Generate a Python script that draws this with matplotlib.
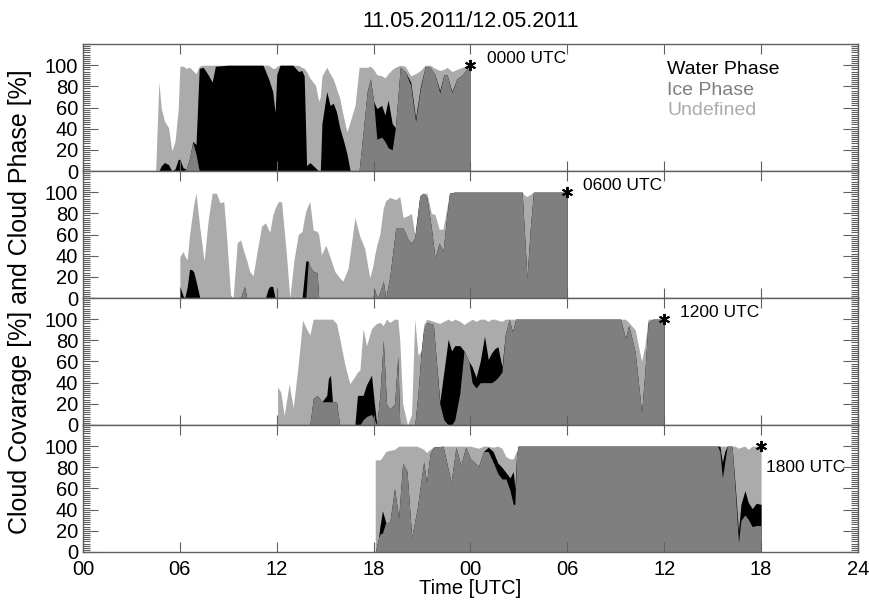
import numpy as np
import matplotlib.pyplot as plt
from matplotlib.ticker import MultipleLocator

plt.rcParams['font.family'] = ['Liberation Sans', 'DejaVu Sans']

# hours counted from 11.05.2011 00 UTC; cover, ice and water in percent
hours_00 = [4.5, 4.7, 4.85, 5.05, 5.3, 5.5, 5.7, 5.9, 6.0, 6.2, 6.4, 6.6, 6.8, 7.0, 7.2, 7.45,
            7.75, 8.0, 8.2, 9.0, 10.0, 11.15, 11.5, 11.75, 11.9, 12.0, 12.2, 13.0, 13.35, 13.55,
            13.7, 13.85, 14.05, 14.4, 14.6, 14.7, 14.8, 15.1, 15.3, 15.5, 15.7, 15.9, 16.15,
            16.35, 16.55, 16.85, 17.1, 17.4, 17.6, 17.8, 18.0, 18.2, 18.5, 18.7, 18.9, 19.15,
            19.35, 19.65, 19.95, 20.3, 20.6, 20.9, 21.2, 21.5, 21.8, 22.1, 22.35, 22.55, 22.85,
            23.15, 23.5, 23.8, 24.0]
cover_00 = [0, 84, 59, 47, 41, 19, 28, 59, 99, 99, 97, 98, 95, 92, 99, 100,
            100, 100, 100, 100, 100, 100, 100, 97, 97, 99, 100, 100, 100, 98,
            97, 94, 88, 81, 66, 70, 90, 98, 92, 87, 78, 69, 50,
            37, 47, 62, 98, 98, 98, 99, 96, 91, 90, 88, 92, 96,
            98, 100, 99, 90, 92, 95, 100, 100, 97, 95, 96, 98, 94,
            96, 98, 100, 100]
ice_00 = [0, 0, 0, 0, 0, 0, 0, 0, 0, 0, 2, 12, 27, 16, 0, 0,
          0, 0, 0, 0, 0, 0, 0, 0, 0, 0, 0, 0, 0, 0,
          0, 0, 0, 0, 0, 0, 0, 0, 0, 0, 0, 0, 0,
          0, 0, 0, 0, 44, 75, 87, 66, 30, 32, 28, 22, 20,
          41, 98, 94, 81, 47, 78, 99, 98, 91, 74, 91, 91, 74,
          87, 91, 97, 99]
water_00 = [0, 0, 5, 8, 6, 0, 2, 11, 11, 3, 0, 0, 1, 9, 97, 98,
            91, 84, 99, 100, 100, 100, 87, 75, 55, 91, 100, 100, 94, 95,
            90, 5, 8, 3, 0, 0, 45, 75, 62, 64, 56, 41, 28,
            16, 0, 0, 0, 0, 0, 0, 0, 29, 30, 25, 45, 25,
            0, 0, 0, 3, 3, 2, 0, 0, 0, 2, 0, 0, 1,
            0, 0, 0, 0]

hours_06 = [6.0, 6.2, 6.3, 6.45, 6.6, 6.72, 6.85, 7.0, 7.24, 7.5, 7.75, 8.0, 8.27, 8.48, 8.72,
            8.9, 9.14, 9.3, 9.55, 9.76, 10.0, 10.15, 10.33, 10.54, 10.75, 11.06, 11.3, 11.45,
            11.57, 11.75, 11.9, 12.09, 12.3, 12.6, 12.81, 13.06, 13.33, 13.57, 13.7, 13.8,
            13.95, 14.05, 14.26, 14.5, 14.6, 14.77, 15.04, 15.29, 15.6, 15.9, 16.1, 16.42,
            16.84, 17.15, 17.45, 17.76, 17.95, 18.07, 18.2, 18.38, 18.6, 18.75, 19.0, 19.37,
            19.62, 19.83, 20.14, 20.34, 20.55, 20.86, 21.07, 21.3, 21.58, 21.8, 22.06, 22.3,
            22.5, 22.7, 23.0, 27.2, 27.35, 27.5, 27.7, 27.9, 30.0]
cover_06 = [39, 44, 40, 36, 60, 73, 88, 99, 66, 35, 73, 99, 99, 90, 91,
            57, 3, 0, 52, 55, 42, 35, 25, 21, 41, 68, 71, 66,
            62, 78, 85, 91, 91, 41, 0, 35, 60, 63, 75, 82,
            88, 91, 64, 63, 60, 41, 50, 39, 25, 19, 16, 28,
            76, 58, 47, 19, 30, 41, 50, 60, 85, 92, 95, 93,
            96, 76, 78, 80, 60, 97, 99, 99, 80, 79, 65, 65,
            82, 99, 100, 100, 97, 96, 98, 100, 100]
ice_06 = [0, 0, 0, 0, 0, 0, 0, 0, 0, 0, 0, 0, 0, 0, 0,
          0, 0, 0, 0, 0, 11, 0, 0, 0, 0, 0, 0, 0,
          0, 0, 0, 0, 0, 0, 0, 0, 0, 0, 0, 0,
          35, 30, 25, 24, 0, 0, 0, 0, 0, 0, 0, 0,
          0, 0, 0, 0, 0, 8, 0, 5, 16, 0, 20, 66,
          66, 66, 55, 52, 57, 96, 99, 95, 66, 38, 52, 44,
          73, 99, 100, 100, 60, 19, 65, 100, 100]
water_06 = [11, 2, 0, 10, 27, 27, 25, 16, 0, 0, 0, 0, 0, 0, 0,
            0, 0, 0, 0, 0, 0, 0, 0, 0, 0, 0, 0, 8,
            11, 11, 0, 0, 0, 0, 0, 0, 0, 0, 20, 35,
            0, 0, 0, 0, 0, 0, 0, 0, 0, 0, 0, 0,
            0, 0, 0, 0, 0, 0, 0, 0, 0, 0, 0, 0,
            0, 0, 0, 0, 0, 0, 0, 0, 0, 0, 0, 0,
            0, 0, 0, 0, 0, 0, 0, 0, 0]

hours_12 = [12.05, 12.25, 12.46, 12.77, 13.02, 13.33, 13.6, 13.84, 14.05, 14.26, 14.5, 14.8,
            15.1, 15.2, 15.33, 15.45, 15.7, 15.9, 16.22, 16.53, 16.84, 17.0, 17.15, 17.35,
            17.56, 17.87, 18.05, 18.2, 18.4, 18.6, 18.8, 19.0, 19.3, 19.5, 19.62, 19.8, 20.1,
            20.35, 20.55, 20.75, 20.95, 21.1, 21.3, 21.7, 22.1, 22.35, 22.62, 22.83, 23.03,
            23.34, 23.6, 23.9, 24.1, 24.35, 24.6, 24.87, 25.1, 25.3, 25.5, 25.7, 25.95, 26.15,
            26.4, 26.6, 26.8, 33.3, 33.6, 33.8, 34.2, 34.6, 34.8, 35.0, 35.3, 36.0]
cover_12 = [36, 31, 9, 39, 16, 57, 99, 91, 85, 100, 100, 100,
            100, 100, 100, 100, 96, 82, 57, 39, 46, 50, 52, 91,
            75, 91, 94, 96, 97, 94, 100, 97, 100, 100, 80, 20, 0,
            10, 100, 66, 70, 95, 100, 98, 96, 98, 100, 98, 100,
            98, 95, 98, 100, 98, 100, 100, 98, 100, 100, 99, 98, 100,
            100, 100, 100, 100, 100, 97, 90, 60, 75, 100, 100, 100]
ice_12 = [0, 0, 0, 0, 0, 0, 0, 0, 0, 25, 28, 22,
          22, 22, 22, 22, 22, 0, 0, 0, 0, 0, 0, 5,
          8, 10, 5, 0, 30, 80, 20, 15, 20, 65, 0, 0, 0,
          0, 0, 30, 70, 90, 97, 95, 20, 5, 0, 0, 5,
          30, 70, 60, 40, 35, 40, 40, 40, 40, 42, 45, 50, 85,
          100, 88, 100, 100, 82, 94, 69, 12, 50, 97, 100, 100]
water_12 = [0, 0, 0, 0, 0, 0, 0, 0, 0, 0, 0, 0,
            6, 22, 25, 0, 0, 0, 0, 0, 0, 28, 28, 23,
            30, 37, 15, 0, 0, 0, 0, 0, 0, 0, 0, 0, 0,
            0, 0, 0, 0, 0, 0, 0, 2, 45, 81, 70, 70,
            45, 0, 0, 15, 10, 20, 44, 22, 28, 30, 29, 5, 0,
            0, 0, 0, 0, 0, 0, 0, 0, 0, 0, 0, 0]

hours_18 = [18.1, 18.3, 18.4, 18.55, 18.75, 19.0, 19.3, 19.55, 19.8, 20.07, 20.36, 20.7, 21.1,
            21.28, 21.5, 21.7, 22.3, 22.8, 23.1, 23.4, 23.7, 24.0, 24.5, 24.8, 25.1, 25.4,
            25.7, 25.95, 26.2, 26.45, 26.65, 26.75, 26.85, 26.95, 39.3, 39.45, 39.6, 39.75,
            39.9, 40.2, 40.4, 40.6, 40.75, 41.0, 41.2, 41.45, 41.7, 42.0]
cover_18 = [87, 87, 87, 90, 95, 96, 97, 100, 100, 100, 100, 100, 97,
            94, 97, 99, 100, 100, 100, 100, 100, 100, 98, 100, 100, 99,
            100, 98, 90, 88, 88, 92, 95, 100, 100, 100, 100, 100,
            100, 100, 100, 98, 99, 100, 97, 100, 100, 100]
ice_18 = [0, 13, 17, 18, 28, 28, 60, 32, 84, 76, 14, 41, 85,
          66, 93, 99, 100, 66, 99, 82, 99, 88, 81, 95, 95, 85,
          74, 69, 69, 58, 45, 45, 90, 100, 100, 95, 70, 85,
          100, 100, 57, 9, 30, 35, 31, 24, 25, 25]
water_18 = [0, 0, 8, 21, 0, 0, 0, 0, 0, 0, 0, 0, 0,
            0, 0, 0, 0, 0, 0, 0, 0, 0, 0, 0, 4, 10,
            10, 11, 6, 12, 31, 15, 0, 0, 0, 5, 15, 10,
            0, 0, 5, 11, 15, 23, 16, 17, 21, 20]

run_labels = ['0000 UTC', '0600 UTC', '1200 UTC', '1800 UTC']
run_hours = [24, 30, 36, 42]
tick_labels = ['00', '06', '12', '18', '00', '06', '12', '18', '24']

runs = [(hours_00, cover_00, ice_00, water_00),
        (hours_06, cover_06, ice_06, water_06),
        (hours_12, cover_12, ice_12, water_12),
        (hours_18, cover_18, ice_18, water_18)]

c_water = 'black'
c_ice = '#7f7f7f'
c_undef = '#ababab'
c_axis = '#606060'

fig, axes = plt.subplots(4, 1, figsize=(8.69, 6.03), dpi=100, sharex=True)
fig.subplots_adjust(left=0.0955, right=0.9873, top=0.927, bottom=0.0846, hspace=0)

for i, (ax, run) in enumerate(zip(axes, runs)):
    h, cover, ice, water = (np.array(a, dtype=float) for a in run)
    # layers overlap from zero: cover on the back, ice in front
    ax.fill_between(h, 0, cover, color=c_undef, lw=0)
    ax.fill_between(h, 0, ice + water, color=c_water, lw=0)
    ax.fill_between(h, 0, ice, color=c_ice, lw=0)

    t_end = run_hours[i]
    ax.plot(t_end, 100, marker=(6, 2, 0), ms=8, mew=1.4, color='black',
            clip_on=False, zorder=5)
    if i < 3:
        ax.text(t_end + 1.0, 106, run_labels[i], fontsize=12.5, va='center', ha='left')
    else:
        ax.text(t_end + 0.3, 80, run_labels[i], fontsize=12.5, va='center', ha='left')

    ax.set_xlim(0, 48)
    ax.set_ylim(0, 120)
    ax.set_xticks(range(0, 49, 6))
    ax.set_xticklabels(tick_labels)
    ax.set_yticks([0, 20, 40, 60, 80, 100])
    ax.yaxis.set_minor_locator(MultipleLocator(2))
    ax.tick_params(axis='x', which='major', direction='in', length=7, width=0.8,
                   top=True, bottom=True, color=c_axis, labelsize=14.5, pad=6)
    ax.tick_params(axis='y', which='major', direction='in', length=10.5, width=0.8,
                   left=True, right=True, color=c_axis, labelsize=14.5, pad=3.5)
    ax.tick_params(axis='y', which='minor', direction='in', length=5, width=0.8,
                   left=True, right=True, color=c_axis)
    for sp in ax.spines.values():
        sp.set_color(c_axis)
        sp.set_linewidth(1.0)

axes[0].text(36.2, 96, 'Water Phase', color=c_water, fontsize=14, va='center')
axes[0].text(36.2, 76.5, 'Ice Phase', color=c_ice, fontsize=14, va='center')
axes[0].text(36.2, 57, 'Undefined', color=c_undef, fontsize=14, va='center')

fig.suptitle('11.05.2011/12.05.2011', fontsize=15.5, x=0.541, y=0.982)
axes[-1].set_xlabel('Time [UTC]', fontsize=14.5, labelpad=0)
fig.text(0.023, 0.5, 'Cloud Covarage [%] and Cloud Phase [%]', rotation=90,
         fontsize=18, va='center', ha='center')

fig.savefig('out.png', dpi=100)
